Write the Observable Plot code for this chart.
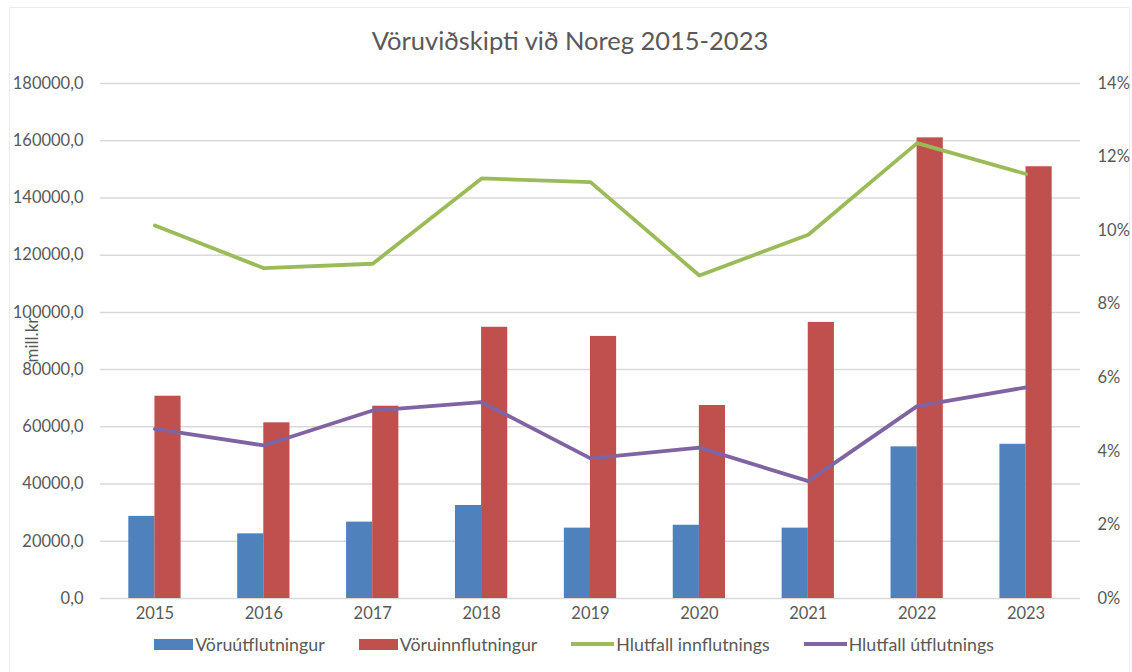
<!DOCTYPE html>
<html>
<head>
<meta charset="utf-8">
<script src="https://cdn.jsdelivr.net/npm/d3@7"></script>
<script src="https://cdn.jsdelivr.net/npm/@observablehq/plot@0.6"></script>
<style>
  html, body { margin: 0; padding: 0; background: #fff; }
  #wrap { position: relative; width: 1132px; height: 672px; font-family: Lato, "Open Sans", sans-serif; color: #595959; }
  #frame { position: absolute; left: 9px; top: 7px; width: 1121px; height: 670px; border: 1px solid #ececec; box-sizing: border-box; }
  #title { position: absolute; left: 0; top: 25px; width: 1140px; text-align: center; font-size: 25.5px; color: #595959; }
  #chart { position: absolute; left: 0; top: 60px; }
  #ylabel { position: absolute; left: 31px; top: 340px; transform: translate(-50%, -50%) rotate(-90deg); font-size: 17px; color: #595959; white-space: nowrap; }
  #legend { position: absolute; left: 8px; top: 633px; width: 1132px; display: flex; justify-content: center; font-size: 17.8px; color: #595959; }
  .item { display: flex; align-items: center; margin: 0 17px; }
  .sw { display: inline-block; width: 39px; height: 11px; margin-right: 2px; }
  .ln { display: inline-block; width: 43px; height: 4px; margin-right: 2px; }
</style>
</head>
<body>
<div id="wrap">
  <div id="frame"></div>
  <div id="title">Vöruviðskipti við Noreg 2015-2023</div>
  <div id="chart"></div>
  <div id="ylabel">mill.kr</div>
  <div id="legend"></div>
</div>
<script>
const years = ["2015","2016","2017","2018","2019","2020","2021","2022","2023"];
const exportsVal = [28700, 22600, 26700, 32500, 24600, 25600, 24600, 53000, 53900];   // Vöruútflutningur
const importsVal = [70700, 61400, 67200, 94800, 91600, 67450, 96500, 161000, 150900]; // Vöruinnflutningur
const shareImports = [10.14, 8.98, 9.10, 11.42, 11.32, 8.78, 9.89, 12.38, 11.54];     // Hlutfall innflutnings (%)
const shareExports = [4.61, 4.16, 5.11, 5.34, 3.81, 4.10, 3.19, 5.23, 5.74];          // Hlutfall útflutnings (%)
const leftTicks = [0, 20000, 40000, 60000, 80000, 100000, 120000, 140000, 160000, 180000];
const rightTicks = [0, 2, 4, 6, 8, 10, 12, 14];
const seriesNames = ["Vöruútflutningur", "Vöruinnflutningur", "Hlutfall innflutnings", "Hlutfall útflutnings"];
const colors = ["#4f81bd", "#c0504d", "#9bbb59", "#8064a2"];

const leftMax = 180000, rightMax = 14;
const toLeft = p => p / rightMax * leftMax;

const bars1 = years.map((y, i) => ({year: y, value: exportsVal[i]}));
const bars2 = years.map((y, i) => ({year: y, value: importsVal[i]}));
const line1 = years.map((y, i) => ({year: y, value: toLeft(shareImports[i])}));
const line2 = years.map((y, i) => ({year: y, value: toLeft(shareExports[i])}));

const fmtLeft = d => d3.format(".1f")(d).replace(".", ",");
const half = 26.1;

const plot = Plot.plot({
  width: 1132,
  height: 575,
  marginTop: 23,
  marginBottom: 37,
  marginLeft: 100,
  marginRight: 52,
  style: {fontFamily: "Lato, 'Open Sans', sans-serif", fontSize: "16.5px", color: "#595959", background: "transparent"},
  x: {type: "band", domain: years, paddingInner: 0.52, paddingOuter: 0.26, round: false, label: null},
  y: {domain: [0, leftMax], label: null},
  marks: [
    Plot.gridY(leftTicks, {stroke: "#d9d9d9", strokeOpacity: 1, strokeWidth: 1.5}),
    Plot.barY(bars1, {x: "year", y: "value", fill: colors[0], insetRight: half}),
    Plot.barY(bars2, {x: "year", y: "value", fill: colors[1], insetLeft: half}),
    Plot.line(line1, {x: "year", y: "value", stroke: colors[2], strokeWidth: 3.8}),
    Plot.line(line2, {x: "year", y: "value", stroke: colors[3], strokeWidth: 3.8}),
    Plot.axisY({ticks: leftTicks, tickFormat: fmtLeft, tickSize: 0, tickPadding: 17, label: null, anchor: "left"}),
    Plot.axisY({ticks: rightTicks.map(toLeft), tickFormat: d => Math.round(d / leftMax * rightMax) + "%", tickSize: 0, tickPadding: 17, textAnchor: "start", label: null, anchor: "right"}),
    Plot.axisX({tickSize: 0, tickPadding: 9, label: null})
  ]
});
document.getElementById("chart").appendChild(plot);

const legend = document.getElementById("legend");
seriesNames.forEach((name, i) => {
  const item = document.createElement("div");
  item.className = "item";
  const sw = document.createElement("span");
  sw.className = i < 2 ? "sw" : "ln";
  sw.style.background = colors[i];
  const tx = document.createElement("span");
  tx.textContent = name;
  item.appendChild(sw);
  item.appendChild(tx);
  legend.appendChild(item);
});
</script>
</body>
</html>
